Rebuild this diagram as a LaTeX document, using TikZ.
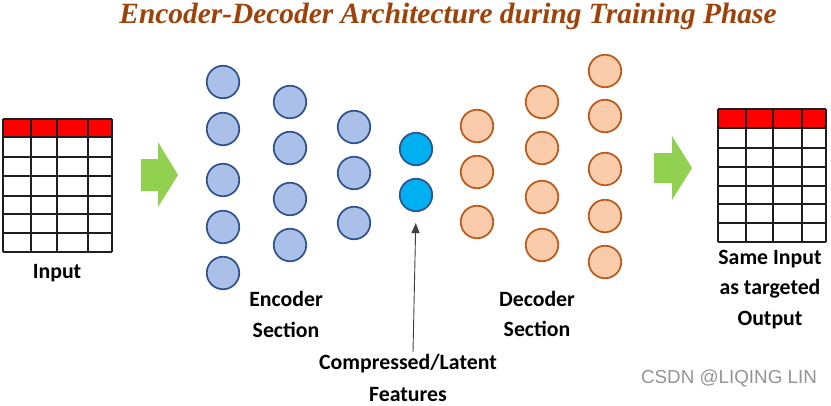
\documentclass[tikz,border=0pt]{standalone}
\usepackage{fontspec}
\setmainfont{Carlito}
\newfontfamily\titlefont{Liberation Serif}
\newfontfamily\wmfont{Liberation Sans}
\usetikzlibrary{arrows.meta}
\definecolor{titlebrown}{RGB}{158,66,10}
\definecolor{encfill}{RGB}{170,192,232}
\definecolor{encdraw}{RGB}{47,82,143}
\definecolor{latfill}{RGB}{0,176,240}
\definecolor{decfill}{RGB}{250,204,172}
\definecolor{decdraw}{RGB}{190,88,22}
\definecolor{arrowgreen}{RGB}{146,208,80}
\definecolor{tableline}{RGB}{30,30,30}
\tikzset{
  neuron/.style={circle,minimum size=32.5pt,inner sep=0pt,line width=1.7pt},
  encn/.style={neuron,draw=encdraw,fill=encfill},
  latn/.style={neuron,draw=encdraw,fill=latfill},
  decn/.style={neuron,draw=decdraw,fill=decfill},
  lbl/.style={font=\fontsize{21.8}{24}\selectfont\bfseries,anchor=base,inner sep=0pt},
  tbl/.style={draw=tableline,line width=1.1pt},
  greenarrow/.style={fill=arrowgreen,draw=none}
}
\begin{document}
\begin{tikzpicture}[x=1pt,y=-1pt]
\useasboundingbox (0,0) rectangle (831,405);
% title
\node[font=\titlefont\fontsize{29.4}{32}\selectfont\bfseries\itshape,text=titlebrown,anchor=base,inner sep=0pt] (title) at (448,23.5) {Encoder-Decoder Architecture during Training Phase};
% left table
\fill[red] (3,119) rectangle (112,137);
\foreach \yy in {119,137,157,176,196,214,233,252} \draw[tbl] (3,\yy) -- (112,\yy);
\foreach \xx in {3,31,57,88,112} \draw[tbl] (\xx,119) -- (\xx,252);
% right table
\fill[red] (718,109) rectangle (826,128);
\foreach \yy in {109,128,148,167,186,204,223,242} \draw[tbl] (718,\yy) -- (826,\yy);
\foreach \xx in {718,746,773,802,826} \draw[tbl] (\xx,109) -- (\xx,242);
% green arrows
\fill[greenarrow] (141,159) -- (158,159) -- (158,142) -- (178,175) -- (158,207) -- (158,191) -- (141,191) -- cycle;
\fill[greenarrow] (654,153) -- (672,153) -- (672,136) -- (692,168) -- (672,200) -- (672,183) -- (654,183) -- cycle;
% encoder
\foreach \yy [count=\i] in {82,129,180,227,273} \node[encn] (e1\i) at (223,\yy) {};
\foreach \yy [count=\i] in {102,148,199,245} \node[encn] (e2\i) at (290,\yy) {};
\foreach \yy [count=\i] in {127,173,223} \node[encn] (e3\i) at (354,\yy) {};
% latent
\node[latn] (l1) at (416,149) {};
\node[latn] (l2) at (416,195) {};
% decoder
\foreach \yy [count=\i] in {126,172,222} \node[decn] (d1\i) at (477,\yy) {};
\foreach \yy [count=\i] in {102,148,197,245} \node[decn] (d2\i) at (542,\yy) {};
\foreach \yy [count=\i] in {71,116,169,216,262} \node[decn] (d3\i) at (605,\yy) {};
% labels
\node[lbl] (inp) at (57,278) {Input};
\node[lbl] (enc1) at (286,306) {Encoder};
\node[lbl] (enc2) at (286,337) {Section};
\node[lbl] (dec1) at (537,306) {Decoder};
\node[lbl] (dec2) at (537,336) {Section};
\node[lbl] (cmp1) at (408,369) {Compressed/Latent};
\node[lbl] (cmp2) at (408,401) {Features};
\node[lbl] (out1) at (770,264) {Same Input};
\node[lbl] (out2) at (770,294) {as targeted};
\node[lbl] (out3) at (770,325) {Output};
% latent arrow
\coordinate (arrstart) at (413,352);
\draw[line width=0.9pt,draw=black!75,-{Triangle[length=10pt,width=8pt]},shorten >=11pt] (arrstart) -- (l2.south);
% watermark
\node[font=\wmfont\fontsize{18.8}{20}\selectfont,text=black!42,anchor=base,inner sep=0pt] (wm) at (729,383) {CSDN @LIQING LIN};
\end{tikzpicture}
\end{document}
